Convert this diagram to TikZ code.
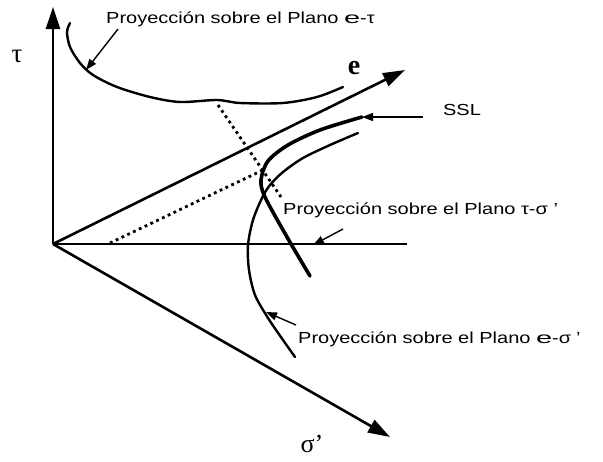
\documentclass[tikz,border=0pt]{standalone}
\usepackage{fontspec}
\usepackage{graphicx}
\usetikzlibrary{arrows.meta}
\setmainfont{Liberation Sans}
\newfontfamily\lblfont[FakeStretch=1.25]{Liberation Sans}
\newfontfamily\axfont{Liberation Serif}
\newcommand{\widee}{\scalebox{1.45}[1]{e}}

\begin{document}
\begin{tikzpicture}[x=1pt, y=-1pt,
  axis/.style={line width=2.6pt, -{Triangle[length=22pt,width=14pt]}},
  curve/.style={line width=2.4pt, line cap=round},
  pointer/.style={line width=1.4pt, -{Triangle[length=11pt,width=8pt]}},
  proj/.style={line width=2.8pt, dash pattern=on 2.8pt off 3.6pt},
  lbl/.style={font=\lblfont\fontsize{16}{18}\selectfont, inner sep=0pt},
  axlbl/.style={font=\axfont\fontsize{27}{29}\selectfont, inner sep=0pt}]
  \useasboundingbox (0,0) rectangle (603,461);

  % axes
  \coordinate (o) at (53,244);
  \coordinate (tautip) at (53,7);
  \coordinate (etip) at (405,70);
  \coordinate (sigtip) at (390,437);
  \coordinate (hend) at (407,244);
  \draw[axis] (o) -- (tautip);
  \draw[axis] (o) -- (etip);
  \draw[axis] (o) -- (sigtip);
  \draw[line width=2.6pt] (o) -- (hend);
  \node[axlbl] (tau) at (17,56) {τ};
  \node[axlbl, font=\axfont\bfseries\fontsize{28}{30}\selectfont] (e) at (354,68) {e};
  \node[axlbl, font=\axfont\fontsize{26}{28}\selectfont, anchor=south] (sig) at (312,453) {σ’};

  % projection e-tau
  \draw[curve] plot[smooth] coordinates {(70,23) (67,32) (70,47) (80,63) (93,75) (117,87) (150,97) (180,102) (217,100) (240,103) (283,103) (317,97) (343,87)};
  % SSL
  \draw[curve, line width=3.6pt] plot[smooth] coordinates {(362,117) (320,130) (288,145) (268,161) (261,180) (265,197) (287,237) (310,276)};
  % projection e-sigma' / tau-sigma'
  \draw[curve] plot[smooth] coordinates {(358,133) (330,145) (303,158) (283,172) (270,185) (262,198) (253,220) (248,245) (249,270) (255,295) (268,318) (283,340) (295,357)};

  % dotted projection lines
  \draw[proj] (218,105) -- (281,197);
  \draw[proj] (110,243) -- (263,170);

  % labels and pointers
  \node[lbl, anchor=west] (ptop) at (106,19) {Proyección sobre el Plano \widee-τ};
  \node[lbl] (ssl) at (462,110) {SSL};
  \node[lbl, anchor=west] (pmid) at (283,210) {Proyección sobre el Plano τ-σ ’};
  \node[lbl, anchor=west] (pbot) at (298,339) {Proyección sobre el Plano \widee-σ\hspace{5pt}’};
  \coordinate (ptopa) at (118,29);
  \coordinate (ptopb) at (86,70);
  \coordinate (ssla) at (423,117);
  \coordinate (sslb) at (362,117);
  \coordinate (pmida) at (343,229);
  \coordinate (pmidb) at (313,245);
  \coordinate (pbota) at (296,325);
  \coordinate (pbotb) at (266,312);
  \draw[pointer] (ptopa) -- (ptopb);
  \draw[pointer] (ssla) -- (sslb);
  \draw[pointer] (pmida) -- (pmidb);
  \draw[pointer] (pbota) -- (pbotb);
\end{tikzpicture}
\end{document}
